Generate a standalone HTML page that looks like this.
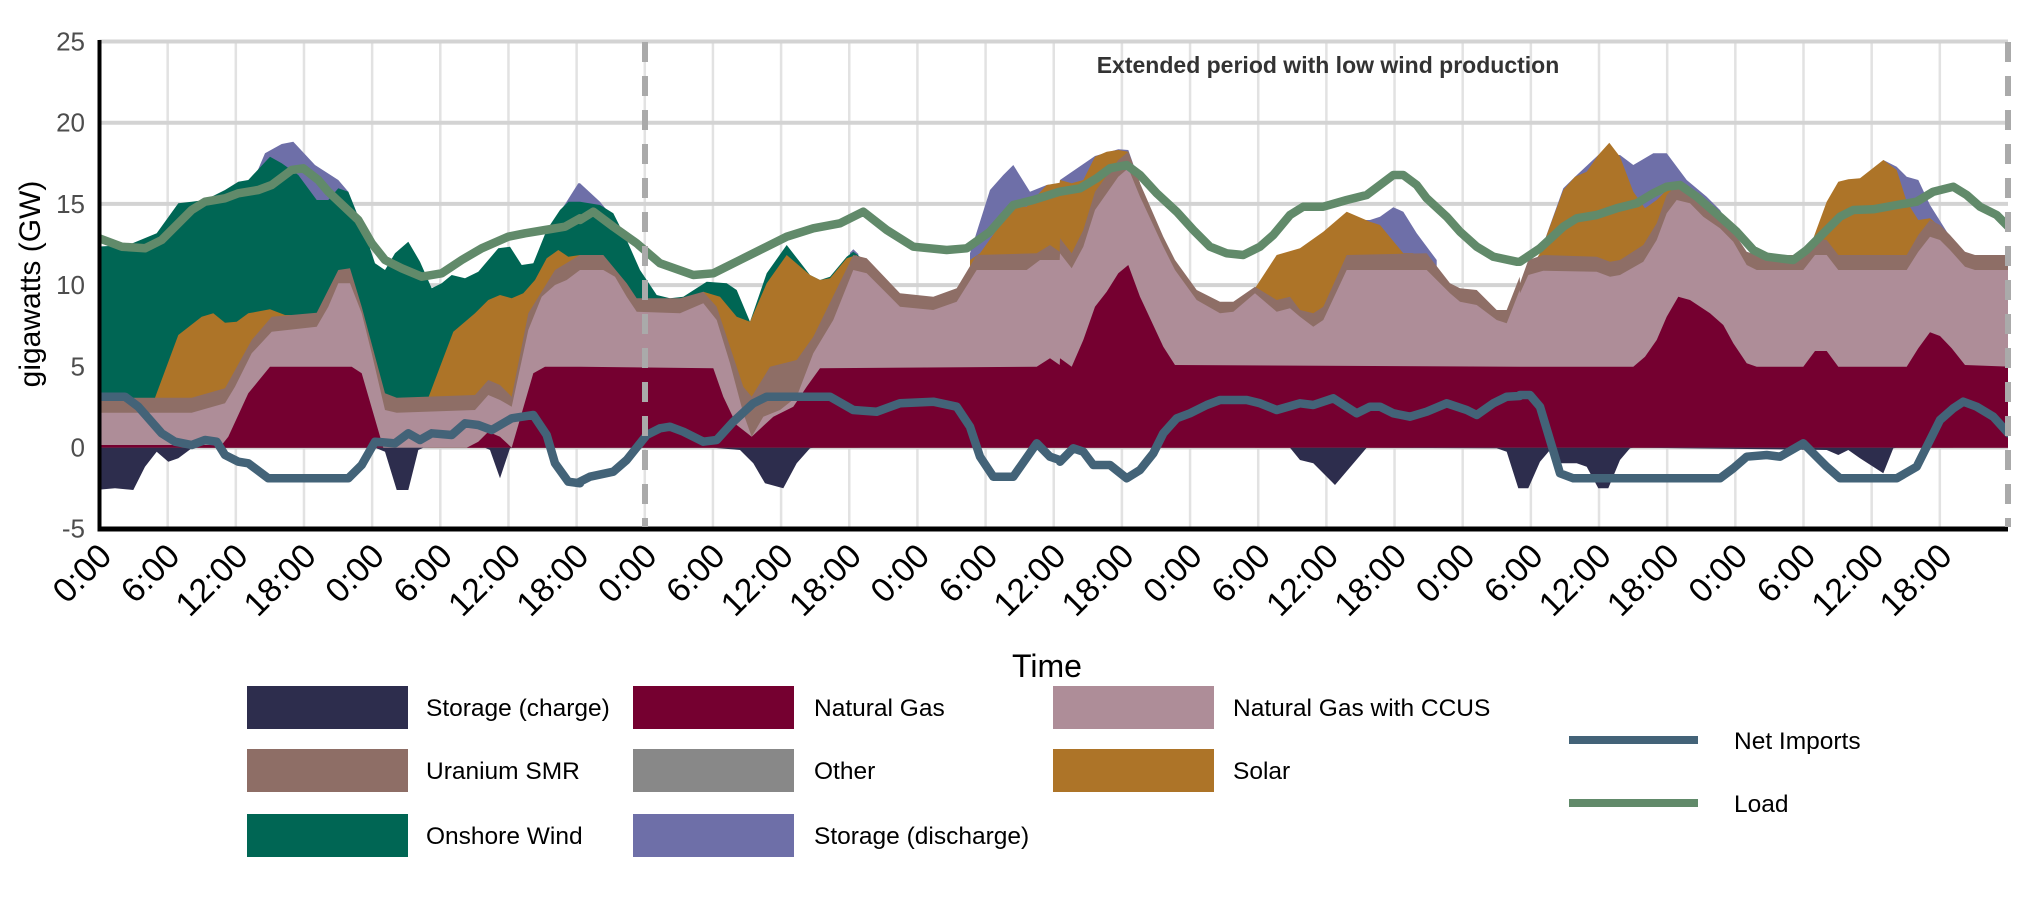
<!DOCTYPE html>
<html><head><meta charset="utf-8">
<style>
html,body{margin:0;padding:0;background:#fff;}
svg{display:block;font-family:"Liberation Sans",Arial,sans-serif;}
</style></head>
<body>
<svg id="c" width="2025" height="900" viewBox="0 0 2025 900" xmlns="http://www.w3.org/2000/svg">
<defs><clipPath id="pc"><rect x="99.5" y="41" width="1908.5" height="488"/></clipPath></defs>
<g id="grid"></g>
<g id="areas" clip-path="url(#pc)"></g>
<g id="lines" clip-path="url(#pc)"></g>
<g id="axes"></g>
<text x="1328" y="73" font-size="23" font-weight="bold" fill="#333" text-anchor="middle">Extended period with low wind production</text>
<text transform="translate(40,284) rotate(-90)" font-size="30" fill="#000" text-anchor="middle">gigawatts (GW)</text>
<text x="1047" y="677" font-size="32" fill="#000" text-anchor="middle">Time</text>
<g font-size="24.5" fill="#000">
<rect x="247" y="686" width="161" height="43" fill="#2d2d4d"/><text x="426" y="716">Storage (charge)</text>
<rect x="247" y="749" width="161" height="43" fill="#8e6e66"/><text x="426" y="779">Uranium SMR</text>
<rect x="247" y="814" width="161" height="43" fill="#006654"/><text x="426" y="844">Onshore Wind</text>
<rect x="633" y="686" width="161" height="43" fill="#750030"/><text x="814" y="716">Natural Gas</text>
<rect x="633" y="749" width="161" height="43" fill="#888888"/><text x="814" y="779">Other</text>
<rect x="633" y="814" width="161" height="43" fill="#6e6fa8"/><text x="814" y="844">Storage (discharge)</text>
<rect x="1053" y="686" width="161" height="43" fill="#ae8d98"/><text x="1233" y="716">Natural Gas with CCUS</text>
<rect x="1053" y="749" width="161" height="43" fill="#ad7428"/><text x="1233" y="779">Solar</text>
<line x1="1569" y1="740" x2="1698" y2="740" stroke="#436378" stroke-width="8"/><text x="1734" y="749">Net Imports</text>
<line x1="1569" y1="803" x2="1698" y2="803" stroke="#618a6a" stroke-width="8"/><text x="1734" y="812">Load</text>
</g>
</svg>
<script>
var NS="http://www.w3.org/2000/svg";
var X0={3:95,4:580,5:1060,6:1520};
var NEXT={3:580,4:1060,5:1520,6:99999};
function el(t,a,p){var e=document.createElementNS(NS,t);for(var k in a)e.setAttribute(k,a[k]);p.appendChild(e);return e;}
function conv(chunks){var out=[];chunks.forEach(function(c){var z=c[0];c[1].forEach(function(p){var x=X0[z]+p[0]/3;if(x<NEXT[z]+0.01||z==6){out.push([x,120+p[1]/3]);}});});return out;}
var BASE=447.7;
function area(chunks,col,down){var p=conv(chunks);var s="M"+p[0][0].toFixed(1)+","+BASE;p.forEach(function(q){s+=" L"+q[0].toFixed(1)+","+q[1].toFixed(1);});s+=" L"+p[p.length-1][0].toFixed(1)+","+BASE+" Z";el("path",{d:s,fill:col},document.getElementById("areas"));}
function line(chunks,col){var p=conv(chunks);el("polyline",{points:p.map(function(q){return q[0].toFixed(1)+","+q[1].toFixed(1);}).join(" "),fill:"none",stroke:col,"stroke-width":8.5,"stroke-linejoin":"round","stroke-linecap":"round"},document.getElementById("lines"));}
var g=document.getElementById("grid");
for(var h=6;h<168;h+=6){var x=99.5+h*11.36;el("line",{x1:x,y1:41.5,x2:x,y2:528,stroke:"#e2e2e2","stroke-width":2.5},g);}
for(var v=0;v<=25;v+=5){var y=447.5-v*16.24;el("line",{x1:99.5,y1:y,x2:2008,y2:y,stroke:"#d3d3d3","stroke-width":4},g);}
var ax=document.getElementById("axes");
[-5,0,5,10,15,20,25].forEach(function(v){var y=447.5-v*16.24;var t=el("text",{x:85,y:y+9,"font-size":26,fill:"#4d4d4d","text-anchor":"end"},ax);t.textContent=v;});
var labs=["0:00","6:00","12:00","18:00"];
for(var h=0;h<168;h+=6){var x=99.5+h*11.36;var t=el("text",{transform:"translate("+(x+14)+",558) rotate(-45)","font-size":34,fill:"#000","text-anchor":"end"},ax);t.textContent=labs[(h/6)%4];}
el("line",{x1:99.5,y1:40,x2:99.5,y2:531,stroke:"#000","stroke-width":4},ax);
el("line",{x1:97.5,y1:529,x2:2008,y2:529,stroke:"#000","stroke-width":5},ax);
el("line",{x1:645,y1:42,x2:645,y2:527,stroke:"#aaa","stroke-width":6,"stroke-dasharray":"20,14"},ax);
el("line",{x1:2008,y1:42,x2:2008,y2:527,stroke:"#aaa","stroke-width":6,"stroke-dasharray":"20,14"},ax);

area([[3,[[480,170],[510,100],[560,72],[595,65],[660,135],[730,180],[760,215],[790,290],[800,330]]]],"#6e6fa8");
area([[3,[[1380,300],[1450,190],[1455,190]]],[4,[[0,190],[60,245],[80,270]]]],"#6e6fa8");
area([[4,[[810,398],[820,388],[835,402]]]],"#6e6fa8");
area([[4,[[1170,400],[1230,210],[1270,165],[1300,135],[1350,215],[1400,195],[1439,190]]],[5,[[0,180],[105,108],[175,88],[205,90],[240,190]]]],"#6e6fa8");
area([[5,[[900,300],[930,300],[960,290],[1000,262],[1030,275],[1070,340],[1130,420]]]],"#6e6fa8");
area([[6,[[30,490],[60,400],[130,205],[165,170],[235,105],[300,105],[340,135],[400,100],[440,100],[500,180],[560,230],[600,270],[640,335],[660,370]]]],"#6e6fa8");
area([[6,[[1090,120],[1130,140],[1160,170],[1195,180],[1230,255],[1290,350]]]],"#6e6fa8");
area([[3,[[0,380],[100,375],[185,340],[250,250],[290,245],[330,240],[390,210],[430,185],[460,180],[525,110],[560,130],[610,165],[665,240],[700,240],[730,205],[760,215],[790,290],[810,340],[840,430],[870,450],[900,400],[940,365],[975,425],[1010,505],[1040,490],[1070,465],[1110,475],[1150,455],[1210,385],[1245,380],[1280,435],[1315,430],[1355,330],[1395,270],[1420,245],[1455,245]]],[4,[[0,245],[60,255],[100,280],[140,360],[180,450],[230,525],[270,535],[310,530],[380,485],[440,490],[470,510],[510,605],[560,460],[620,375],[690,465],[720,480],[750,470],[800,410],[820,395],[840,410]]]],"#006654");
area([[3,[[180,833],[250,645],[320,590],[355,580],[390,608],[425,605],[460,580],[525,568],[570,585],[610,585]]]],"#ad7428");
area([[3,[[1000,833],[1075,635],[1140,580],[1180,540],[1215,525],[1250,535],[1285,520],[1320,480],[1355,415],[1390,390],[1420,410],[1455,405]]]],"#ad7428");
area([[4,[[370,515],[420,530],[470,590],[510,605],[560,490],[620,405],[690,465],[720,480],[750,475],[800,415],[830,405]]]],"#ad7428");
area([[4,[[1170,420],[1200,400],[1300,260],[1340,260],[1400,195],[1439,188]]],[5,[[0,180],[35,190],[70,180],[105,110],[140,95],[175,90],[205,95],[240,190]]]],"#ad7428");
area([[5,[[585,505],[650,405],[720,385],[790,335],[860,275],[930,305],[960,315],[1030,400],[1060,400]]]],"#ad7428");
area([[6,[[0,490],[60,400],[130,210],[165,170],[200,155],[235,105],[268,68],[300,110],[340,215],[375,265],[410,240],[450,200],[480,200]]]],"#ad7428");
area([[6,[[850,405],[880,355],[920,245],[955,185],[985,178],[1020,175],[1090,120],[1130,150],[1160,245],[1195,300],[1230,295],[1260,320],[1300,360]]]],"#ad7428");
var U=[[3,[[0,833],[290,833],[390,805],[470,660],[530,590],[665,578],[730,450],[765,445],[800,560],[870,820],[905,833],[1140,825],[1180,780],[1215,795],[1250,830],[1300,580],[1380,450],[1455,405]]],[4,[[0,405],[70,405],[140,490],[170,535],[300,535],[370,515],[410,560],[490,800],[515,830],[570,740],[650,720],[700,650],[820,405],[860,415],[960,520],[1060,530],[1130,505],[1190,405],[1370,400],[1410,375],[1439,395]]],[5,[[0,355],[35,400],[70,330],[105,215],[175,120],[205,95],[240,190],[310,350],[345,420],[410,510],[480,545],[520,545],[585,500],[650,540],[690,530],[720,570],[760,580],[790,560],[860,405],[1100,400],[1170,490],[1200,505],[1250,510],[1310,570],[1340,570],[1379,470]]],[6,[[0,490],[25,420],[70,405],[230,410],[270,425],[300,420],[370,375],[410,310],[440,225],[470,195],[510,205],[550,245],[600,285],[640,335],[680,395],[710,405],[850,405],[885,355],[920,360],[955,405],[1160,405],[1195,345],[1230,300],[1260,315],[1290,345],[1335,395],[1365,405],[1470,405]]]];
area(U,"#8e6e66");
area([[3,[[0,878],[290,878],[390,850],[420,800],[470,700],[530,635],[665,620],[700,560],[730,490],[765,490],[800,580],[830,700],[870,870],[905,878],[1140,870],[1180,825],[1215,840],[1250,860],[1300,630],[1340,530],[1380,495],[1415,480],[1455,450]]],[4,[[0,450],[70,450],[105,470],[140,530],[170,575],[300,580],[370,550],[410,600],[450,730],[490,880],[515,950],[550,890],[600,870],[650,830],[700,700],[760,600],[820,450],[860,460],[960,560],[1060,570],[1130,545],[1190,450],[1340,450],[1380,420],[1439,420]]],[5,[[0,400],[35,445],[70,380],[105,270],[175,170],[205,145],[240,230],[310,380],[345,450],[410,540],[480,580],[520,575],[585,520],[650,575],[690,565],[720,590],[760,620],[790,600],[860,450],[1100,450],[1170,520],[1200,545],[1250,555],[1310,600],[1340,610],[1379,510]]],[6,[[0,520],[25,465],[70,452],[230,455],[270,470],[300,465],[370,425],[410,360],[440,280],[470,240],[510,250],[550,290],[600,325],[640,365],[680,435],[710,450],[850,450],[885,405],[920,405],[955,450],[1160,450],[1195,395],[1230,350],[1260,360],[1290,390],[1335,440],[1365,450],[1470,450]]]],"#ae8d98");
area([[3,[[0,975],[380,975],[400,950],[460,820],[525,740],[770,740],[800,760],[865,983],[1115,983],[1150,965],[1180,935],[1215,950],[1250,983],[1315,760],[1350,740],[1455,740]]],[4,[[0,740],[400,745],[430,830],[470,915],[515,950],[580,890],[640,860],[680,800],[720,745],[1370,740],[1410,715],[1439,735]]],[5,[[0,715],[35,740],[70,660],[105,560],[140,515],[175,460],[205,435],[240,530],[310,680],[345,735],[1379,740]]],[6,[[0,740],[340,740],[375,710],[410,660],[440,590],[475,530],[510,540],[570,580],[610,615],[640,670],[680,730],[710,740],[850,740],[885,693],[920,693],[955,740],[1160,740],[1195,685],[1230,637],[1260,648],[1295,685],[1335,735],[1470,740]]]],"#750030");
area([[3,[[0,1110],[60,1105],[115,1110],[150,1040],[185,995],[220,1025],[250,1015],[290,985],[300,983],[840,983],[870,995],[905,1110],[940,1110],[970,990],[985,983],[1170,983],[1185,990],[1215,1075],[1245,985],[1260,983],[1455,983]]],[4,[[0,983],[400,983],[480,990],[520,1030],[555,1090],[610,1105],[650,1030],[690,985],[700,983],[1439,983]]],[5,[[0,983],[690,983],[720,1020],[760,1030],[825,1095],[920,983],[1310,985],[1340,995],[1375,1105],[1379,1105]]],[6,[[0,1105],[25,1105],[60,1025],[90,990],[120,1030],[170,1030],[200,1040],[235,1105],[265,1105],[300,1020],[330,985],[340,983],[920,990],[955,1005],[985,990],[1020,1015],[1090,1060],[1120,985],[1130,983],[1470,983]]]],"#2d2d4d");
line([[3,[[0,830],[90,830],[130,860],[200,940],[240,965],[290,975],[330,960],[365,965],[390,1005],[430,1025],[460,1030],[520,1075],[760,1075],[800,1035],[840,965],[900,970],[940,940],[975,960],[1010,940],[1070,945],[1110,910],[1150,915],[1190,930],[1250,895],[1315,885],[1355,945],[1380,1030],[1420,1085],[1455,1090]]],[4,[[0,1085],[30,1070],[100,1055],[140,1020],[200,945],[240,925],[270,920],[310,935],[370,965],[410,960],[460,905],[520,850],[560,830],[750,830],[820,870],[890,875],[960,850],[1060,845],[1130,860],[1170,920],[1200,1010],[1240,1070],[1300,1070],[1370,970],[1410,1010],[1439,1020]]],[5,[[0,1025],[40,985],[70,995],[100,1035],[150,1035],[200,1075],[240,1050],[280,1000],[310,940],[350,895],[390,880],[440,855],[480,840],[560,840],[600,850],[650,870],[720,850],[760,855],[820,835],[890,880],[930,860],[960,860],[1000,880],[1050,890],[1100,875],[1160,850],[1220,870],[1250,885],[1300,850],[1340,830],[1379,828]]],[6,[[0,825],[30,825],[60,860],[90,960],[120,1060],[160,1075],[600,1075],[640,1045],[680,1010],[740,1005],[780,1010],[850,970],[890,1010],[920,1040],[960,1075],[1130,1075],[1190,1040],[1220,980],[1260,900],[1300,865],[1330,845],[1370,860],[1420,890],[1465,940]]]],"#436378");
line([[3,[[0,350],[80,380],[150,385],[200,360],[290,270],[330,245],[390,235],[430,220],[490,210],[530,195],[590,150],[625,145],[670,180],[700,215],[790,300],[830,370],[870,420],[920,445],[980,470],[1040,460],[1100,420],[1160,385],[1240,350],[1290,340],[1350,330],[1410,320],[1455,295]]],[4,[[0,300],[40,275],[100,320],[170,370],[240,430],[340,465],[400,460],[480,420],[560,380],[620,350],[700,325],[780,310],[850,275],[920,330],[1000,380],[1100,390],[1160,385],[1230,335],[1300,255],[1360,240],[1439,215]]],[5,[[0,215],[60,205],[110,175],[150,145],[200,135],[240,165],[290,220],[350,275],[400,330],[450,380],[500,400],[550,405],[600,380],[640,345],[690,285],[730,260],[790,260],[860,240],[920,225],[960,195],[1000,165],[1030,165],[1070,195],[1100,235],[1160,290],[1200,335],[1250,380],[1300,410],[1370,425]]],[6,[[0,425],[60,385],[130,320],[170,295],[230,285],[290,265],[350,250],[400,220],[440,200],[480,195],[530,230],[600,290],[650,335],[700,390],[740,410],[820,420],[860,390],[920,330],[960,290],[1000,270],[1060,268],[1130,255],[1190,245],[1240,215],[1300,200],[1340,225],[1380,260],[1430,285],[1465,320]]]],"#618a6a");
</script>
</body></html>
